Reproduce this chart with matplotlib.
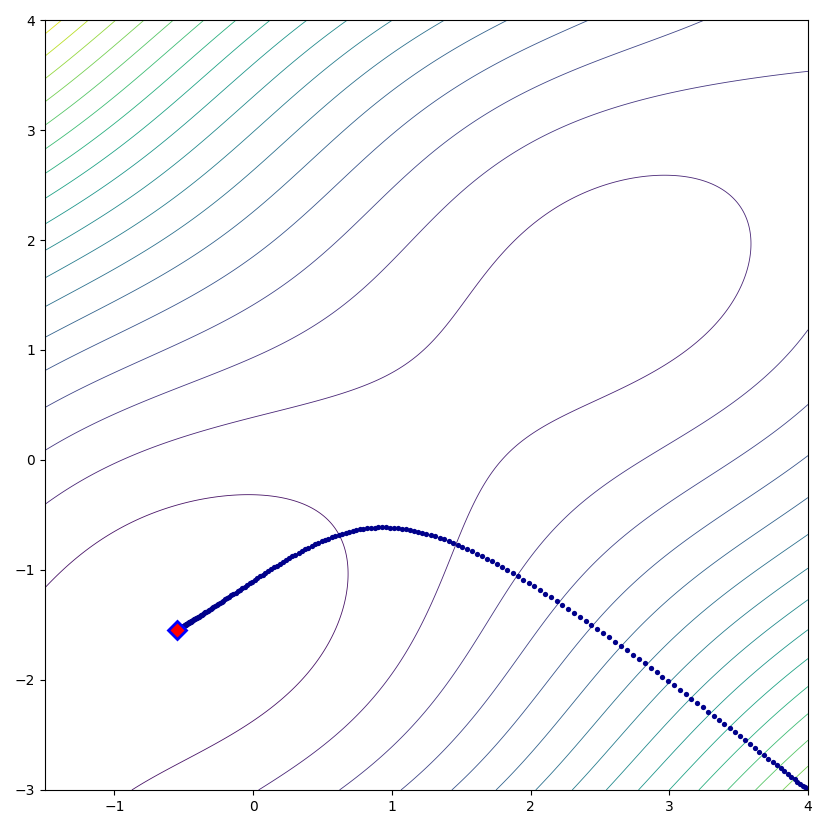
import numpy as np
import matplotlib
matplotlib.use("Agg")
import matplotlib.pyplot as plt

# McCormick function, its usual domain and known minimum
x_range = [-1.5, 4]
y_range = [-3, 4]
levels = np.arange(-2.5, 45.1, 2.5)
minimum = [-0.54719, -1.54719]

# optimizer run (RAdam from the bottom-right corner)
start = [4.0, -3.0]
lr = 0.4
betas = [0.8, 0.999]
n_steps = 600


def f(x, y):
    return np.sin(x + y) + (x - y) ** 2 - 1.5 * x + 2.5 * y + 1


def grad(p):
    x, y = p
    c = np.cos(x + y)
    return np.array([c + 2 * (x - y) - 1.5, c - 2 * (x - y) + 2.5])


def radam(p0, lr, n, b1, b2):
    p = np.array(p0)
    m = np.zeros(2)
    v = np.zeros(2)
    rho_inf = 2 / (1 - b2) - 1
    pts = [p.copy()]
    for t in range(1, n + 1):
        g = grad(p)
        m = b1 * m + (1 - b1) * g
        v = b2 * v + (1 - b2) * g * g
        mh = m / (1 - b1 ** t)
        rho = rho_inf - 2 * t * b2 ** t / (1 - b2 ** t)
        if rho > 5:
            vh = np.sqrt(v / (1 - b2 ** t))
            r = np.sqrt((rho - 4) * (rho - 2) * rho_inf / ((rho_inf - 4) * (rho_inf - 2) * rho))
            p = p - lr * r * mh / (vh + 1e-8)
        pts.append(p.copy())
    return np.array(pts)


xs = np.linspace(x_range[0], x_range[1], 400)
ys = np.linspace(y_range[0], y_range[1], 400)
X, Y = np.meshgrid(xs, ys)
Z = f(X, Y)

path = radam(start, lr, n_steps, betas[0], betas[1])

fig = plt.figure(figsize=(8.3, 8.3), dpi=100)
ax = fig.add_axes([0.0542, 0.0482, 0.9193, 0.9277])
ax.contour(X, Y, Z, levels=levels, cmap="viridis", linewidths=0.6)
ax.plot(path[:, 0], path[:, 1], "o", color="darkblue", markersize=3.8,
        markeredgewidth=0)
ax.plot(minimum[0], minimum[1], "D", color="red", markeredgecolor="blue",
        markeredgewidth=2, markersize=9)
ax.set_xlim(x_range)
ax.set_ylim(y_range)
fig.savefig("out.png")
